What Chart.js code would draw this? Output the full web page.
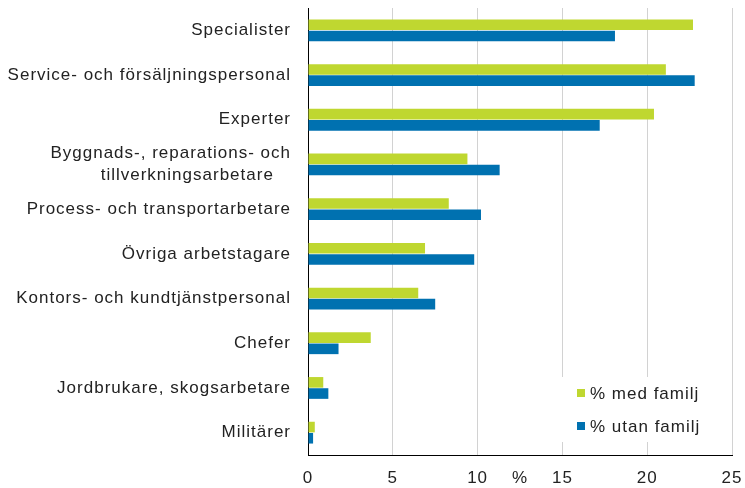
<!DOCTYPE html>
<html>
<head>
<meta charset="utf-8">
<script src="https://cdn.jsdelivr.net/npm/chart.js@4/dist/chart.umd.min.js"></script>
<style>
    html, body { margin: 0; padding: 0; background: #fff; }
    #wrap { width: 745px; height: 488px; }
</style>
</head>
<body>
<div id="wrap"><canvas id="chartYrken"></canvas></div>
<script>
// Yrkesgrupper
const yrken = [
    'Specialister',
    'Service- och försäljningspersonal',
    'Experter',
    ['Byggnads-, reparations- och', 'tillverkningsarbetare   '],
    'Process- och transportarbetare',
    'Övriga arbetstagare',
    'Kontors- och kundtjänstpersonal',
    'Chefer',
    'Jordbrukare, skogsarbetare',
    'Militärer'
];
const medFamilj = [22.7, 21.1, 20.4, 9.4, 8.3, 6.9, 6.5, 3.7, 0.9, 0.4];
const utanFamilj = [18.1, 22.8, 17.2, 11.3, 10.2, 9.8, 7.5, 1.8, 1.2, 0.3];
const serieNamn = ['% med familj', '% utan familj'];
const xMax = 25;
const xEnhet = '%';

const fontFamily = '"Liberation Sans", Arial, sans-serif';
const spacing = '1px';

// texten i originalet ar lite bredare, sa vi lagger pa bokstavsavstand
const letterSpacingPlugin = {
    id: 'letterSpacing',
    beforeLayout(chart) { chart.ctx.letterSpacing = spacing; },
    beforeDraw(chart) { chart.ctx.letterSpacing = spacing; }
};

// egen legend i nedre hogra hornet med vit bakgrund
const boxLegend = {
    id: 'boxLegend',
    afterDraw(chart) {
        const ctx = chart.ctx;
        const area = chart.chartArea;
        const left = area.right - 177;
        const top = area.bottom - 78;
        ctx.save();
        ctx.letterSpacing = spacing;
        ctx.fillStyle = '#fff';
        ctx.fillRect(left, top, 170, 65);
        ctx.font = '17px ' + fontFamily;
        ctx.textBaseline = 'middle';
        chart.data.datasets.forEach((ds, i) => {
            const y = top + 16 + i * 33;
            ctx.fillStyle = ds.backgroundColor;
            ctx.fillRect(left + 22, y - 4, 8, 8);
            ctx.fillStyle = '#222';
            ctx.fillText(ds.label, left + 35, y + 1);
        });
        ctx.restore();
    }
};

const ctx = document.getElementById('chartYrken').getContext('2d');
new Chart(ctx, {
    type: 'bar',
    data: {
        labels: yrken,
        datasets: [
            {
                label: serieNamn[0],
                data: medFamilj,
                backgroundColor: '#bfd730',
                categoryPercentage: 0.5,
                barPercentage: 0.95
            },
            {
                label: serieNamn[1],
                data: utanFamilj,
                backgroundColor: '#0071b0',
                categoryPercentage: 0.5,
                barPercentage: 0.95
            }
        ]
    },
    options: {
        indexAxis: 'y',
        responsive: true,
        maintainAspectRatio: false,
        animation: false,
        layout: {
            padding: { top: 8, right: 13, bottom: 2, left: 0 }
        },
        plugins: {
            legend: { display: false },
            tooltip: { enabled: false }
        },
        scales: {
            x: {
                min: 0,
                max: xMax,
                border: { color: '#000', width: 1 },
                grid: {
                    drawTicks: false,
                    color: (c) => (c.tick && c.tick.value % 5 === 0 && c.tick.value !== 0) ? '#d2d2d2' : 'rgba(0,0,0,0)'
                },
                afterFit: (scale) => {
                    scale.height = 31;
                    scale.paddingLeft = 0;
                    scale.paddingRight = 0;
                },
                ticks: {
                    stepSize: 2.5,
                    autoSkip: false,
                    maxRotation: 0,
                    padding: 13,
                    color: '#222',
                    font: { family: fontFamily, size: 17 },
                    callback: (v) => v === 12.5 ? xEnhet : (v % 5 === 0 ? v : '')
                }
            },
            y: {
                border: { color: '#000', width: 1 },
                grid: { display: false, drawTicks: false },
                afterFit: (scale) => {
                    scale.width = 308;
                    scale.paddingTop = 0;
                    scale.paddingBottom = 0;
                },
                ticks: {
                    padding: 17,
                    autoSkip: false,
                    color: '#222',
                    font: { family: fontFamily, size: 17, lineHeight: 1.3 }
                }
            }
        }
    },
    plugins: [letterSpacingPlugin, boxLegend]
});
</script>
</body>
</html>
